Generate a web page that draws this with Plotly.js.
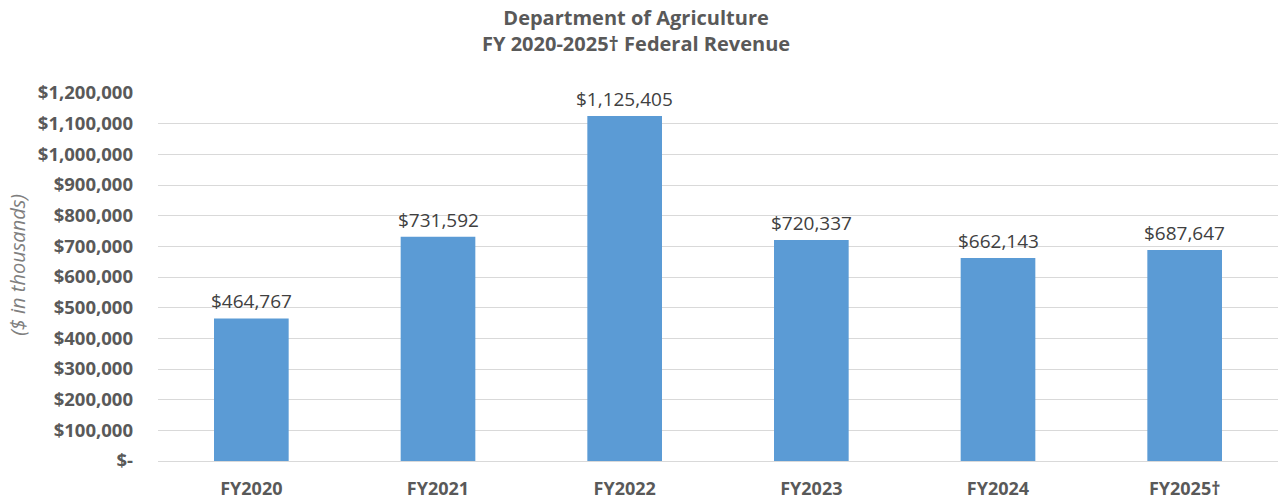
<!DOCTYPE html>
<html>
<head>
<meta charset="utf-8">
<script src="https://cdn.plot.ly/plotly-3.0.1.min.js"></script>
<style>html,body{margin:0;padding:0;background:#fff;}#chart{width:1281px;height:502px;}</style>
</head>
<body>
<div id="chart"></div>
<script>
const categories = ["FY2020", "FY2021", "FY2022", "FY2023", "FY2024", "FY2025†"];
const revenue = [464767, 731592, 1125405, 720337, 662143, 687647];
const barLabels = ["$464,767", "$731,592", "$1,125,405", "$720,337", "$662,143", "$687,647"];
const tickValues = [0, 100000, 200000, 300000, 400000, 500000, 600000, 700000, 800000, 900000, 1000000, 1100000, 1200000];
const tickLabels = ["$-", "$100,000", "$200,000", "$300,000", "$400,000", "$500,000", "$600,000", "$700,000", "$800,000", "$900,000", "$1,000,000", "$1,100,000", "$1,200,000"];
const titleText = "<b>Department of Agriculture<br>FY 2020-2025† Federal Revenue</b>";
const yTitleText = "<i>($ in thousands)</i>";

const fontFam = "'Open Sans', sans-serif";

const labelAnnotations = categories.map((c, i) => ({
  x: c, y: revenue[i], xref: 'x', yref: 'y', text: barLabels[i],
  xanchor: 'center', yanchor: 'bottom', yshift: 2, showarrow: false,
  font: {family: fontFam, size: 19, color: '#404040'}
}));

Plotly.newPlot('chart', [{
  type: 'bar',
  x: categories,
  y: revenue,
  marker: {color: '#5B9BD5'},
  hoverinfo: 'none'
}], {
  width: 1281, height: 502,
  margin: {l: 158, r: 3, t: 93, b: 41},
  paper_bgcolor: '#fff', plot_bgcolor: '#fff',
  bargap: 0.6,
  showlegend: false,
  annotations: [{
    text: titleText, xref: 'paper', yref: 'paper', x: 0.427, y: 1.17,
    xanchor: 'center', yanchor: 'middle', showarrow: false,
    font: {family: fontFam, size: 20, color: '#595959'}
  }, {
    text: yTitleText, xref: 'paper', yref: 'paper', x: -0.125, y: 0.533,
    xanchor: 'center', yanchor: 'middle', showarrow: false, textangle: -90,
    font: {family: fontFam, size: 20, color: '#7f7f7f'}
  }].concat(labelAnnotations),
  xaxis: {
    tickfont: {family: fontFam, size: 18, color: '#595959', weight: 'bold'},
    showgrid: false, zeroline: false, showline: false, ticks: '',
    ticklabelstandoff: 15
  },
  yaxis: {
    range: [0, 1200000],
    tickvals: tickValues, ticktext: tickLabels,
    tickfont: {family: fontFam, size: 18.5, color: '#595959', weight: 'bold'},
    showgrid: true, gridcolor: '#d9d9d9', gridwidth: 1,
    zeroline: true, zerolinecolor: '#d9d9d9', zerolinewidth: 1,
    ticks: '', ticklabelstandoff: 24
  }
}, {staticPlot: true});
</script>
</body>
</html>
